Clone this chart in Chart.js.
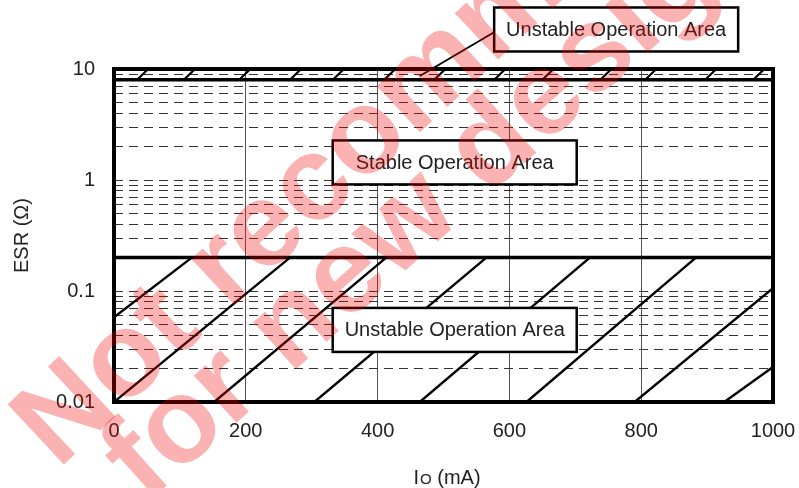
<!DOCTYPE html>
<html>
<head>
<meta charset="utf-8">
<script src="https://cdn.jsdelivr.net/npm/chart.js@4/dist/chart.umd.min.js"></script>
<style>
  html, body { margin: 0; padding: 0; background: #fff; }
  #wrap { width: 799px; height: 488px; position: relative; }
</style>
</head>
<body>
<div id="wrap"><canvas id="esrChart"></canvas></div>
<script>
// Axis values
const xTicks = [0, 200, 400, 600, 800, 1000];
const yGrid = [0.01, 0.02, 0.03, 0.04, 0.05, 0.06, 0.07, 0.08, 0.09,
               0.1, 0.2, 0.3, 0.4, 0.5, 0.6, 0.7, 0.8, 0.9,
               1, 2, 3, 4, 5, 6, 7, 8, 9, 10];
const yLabels = [0.01, 0.1, 1, 10];

// Stable area limits (ESR, ohm)
const stableUpper = 8;
const stableLower = 0.2;

// Hatch lines in the lower unstable area: [x1, y1, x2, y2]
const lowerHatch = [
  [0, 0.058, 118, 0.2],
  [0, 0.01, 267, 0.2],
  [152, 0.01, 413, 0.2],
  [304, 0.01, 565, 0.2],
  [464, 0.01, 722, 0.2],
  [626, 0.01, 883, 0.2],
  [790, 0.01, 1000, 0.106],
  [926, 0.01, 1000, 0.0207]
];

// Short hatch strokes in the upper unstable band: [x at 8 ohm, x at 10 ohm]
const upperHatch = [
  [35, 52], [106, 123], [190, 207], [267, 284], [332, 349], [410, 427],
  [486, 503], [577, 594], [650, 667], [738, 755], [806, 823], [897, 914], [970, 987]
];

// Leader from the upper band to its label: [x1, y1, x2, y2]
const leader = [464, 8.66, 578, 21.7];

// Area labels: text and centre in data units
const areaLabels = ['Unstable Operation Area', 'Stable Operation Area', 'Unstable Operation Area'];
const areaLabelX = [762, 517, 517];
const areaLabelY = [22.7, 1.44, 0.0446];

// turn [x1,y1,x2,y2] lists into one path with gaps
function segments(list) {
  const pts = [];
  list.forEach(s => {
    pts.push({ x: s[0], y: s[1] });
    pts.push({ x: s[2], y: s[3] });
    pts.push({ x: s[2], y: null });
  });
  return pts;
}

const lineStyle = {
  borderColor: '#000',
  pointRadius: 0,
  fill: false,
  tension: 0,
  spanGaps: false
};

const FONT = 'Arial, "Liberation Sans", Helvetica, sans-serif';

// frame, label boxes, x title and watermark
const extras = {
  id: 'extras',
  afterDatasetsDraw(chart) {
    const { ctx, chartArea: a, scales } = chart;
    ctx.save();
    ctx.strokeStyle = '#000';
    ctx.lineWidth = 4;
    ctx.strokeRect(a.left, a.top, a.right - a.left, a.bottom - a.top);

    ctx.font = '20px ' + FONT;
    ctx.textAlign = 'center';
    ctx.textBaseline = 'middle';
    areaLabels.forEach((txt, i) => {
      const cx = scales.x.getPixelForValue(areaLabelX[i]);
      const cy = scales.y.getPixelForValue(areaLabelY[i]);
      const w = 244, h = 44;
      ctx.fillStyle = '#fff';
      ctx.fillRect(cx - w / 2, cy - h / 2, w, h);
      ctx.lineWidth = 2.5;
      ctx.strokeRect(cx - w / 2, cy - h / 2, w, h);
      ctx.fillStyle = '#222';
      ctx.fillText(txt, cx, cy + 1);
    });

    // x axis title with subscript O
    const tx = (a.left + a.right) / 2 + 3;
    const ty = 484;
    ctx.textBaseline = 'alphabetic';
    ctx.textAlign = 'left';
    ctx.font = '20px ' + FONT;
    const wI = ctx.measureText('I').width;
    const rest = ' (mA)';
    const wRest = ctx.measureText(rest).width;
    ctx.font = '15px ' + FONT;
    const wO = ctx.measureText('O').width;
    let x0 = tx - (wI + wO + wRest) / 2;
    ctx.fillStyle = '#222';
    ctx.font = '20px ' + FONT;
    ctx.fillText('I', x0, ty);
    ctx.font = '15px ' + FONT;
    ctx.fillText('O', x0 + wI + 1, ty);
    ctx.font = '20px ' + FONT;
    ctx.fillText(rest, x0 + wI + wO + 1, ty);
    ctx.restore();
  },
  afterDraw(chart) {
    const ctx = chart.ctx;
    ctx.save();
    ctx.fillStyle = 'rgba(240, 0, 0, 0.3)';
    ctx.font = 'bold 120px ' + FONT;
    ctx.textAlign = 'left';
    ctx.textBaseline = 'alphabetic';
    ctx.translate(58, 470);
    ctx.rotate(-43 * Math.PI / 180);
    ctx.fillText('Not recommended', 0, 0);
    ctx.restore();
    ctx.save();
    ctx.fillStyle = 'rgba(240, 0, 0, 0.3)';
    ctx.font = 'bold 120px ' + FONT;
    ctx.translate(146, 504);
    ctx.rotate(-42 * Math.PI / 180);
    ctx.fillText('for new designs', 0, 0);
    ctx.restore();
  }
};

const ctx = document.getElementById('esrChart').getContext('2d');
const chart = new Chart(ctx, {
  type: 'line',
  data: {
    datasets: [
      Object.assign({
        label: 'limits',
        data: [
          { x: 0, y: stableUpper }, { x: 1000, y: stableUpper }, { x: 1000, y: null },
          { x: 0, y: stableLower }, { x: 1000, y: stableLower }
        ],
        borderWidth: 3.5
      }, lineStyle),
      Object.assign({
        label: 'lower hatch',
        data: segments(lowerHatch),
        borderWidth: 2.4
      }, lineStyle),
      Object.assign({
        label: 'upper hatch',
        data: segments(upperHatch.map(p => [p[0], stableUpper, p[1], 10])),
        borderWidth: 2.2
      }, lineStyle),
      Object.assign({
        label: 'leader',
        data: segments([leader]),
        borderWidth: 1.8,
        clip: false
      }, lineStyle)
    ]
  },
  options: {
    responsive: true,
    maintainAspectRatio: false,
    animation: false,
    layout: { padding: { left: 0, right: 26, top: 69, bottom: 0 } },
    plugins: {
      legend: { display: false },
      tooltip: { enabled: false }
    },
    scales: {
      x: {
        type: 'linear',
        min: 0,
        max: 1000,
        afterBuildTicks: scale => { scale.ticks = xTicks.map(v => ({ value: v })); },
        afterFit: scale => {
          scale.height = 86;
          scale.paddingLeft = 0;
          scale.paddingRight = 0;
        },
        ticks: {
          font: { size: 20, family: FONT },
          color: '#222',
          padding: 17,
          maxRotation: 0,
          callback: v => String(v)
        },
        grid: { color: '#555', lineWidth: 1, drawTicks: false },
        border: { display: false }
      },
      y: {
        type: 'logarithmic',
        min: 0.01,
        max: 10,
        afterBuildTicks: scale => { scale.ticks = yGrid.map(v => ({ value: v })); },
        afterFit: scale => {
          scale.width = 114;
          scale.paddingTop = 0;
          scale.paddingBottom = 0;
        },
        ticks: {
          font: { size: 20, family: FONT },
          color: '#222',
          padding: 19,
          autoSkip: false,
          callback: v => yLabels.includes(v) ? String(v) : ''
        },
        grid: { color: '#333', lineWidth: 1, drawTicks: false },
        border: { display: false, dash: [9, 6] },
        title: {
          display: true,
          text: 'ESR (Ω)',
          font: { size: 20, family: FONT },
          color: '#222',
          padding: { top: 10, bottom: 0 }
        }
      }
    }
  },
  plugins: [extras]
});
</script>
</body>
</html>
